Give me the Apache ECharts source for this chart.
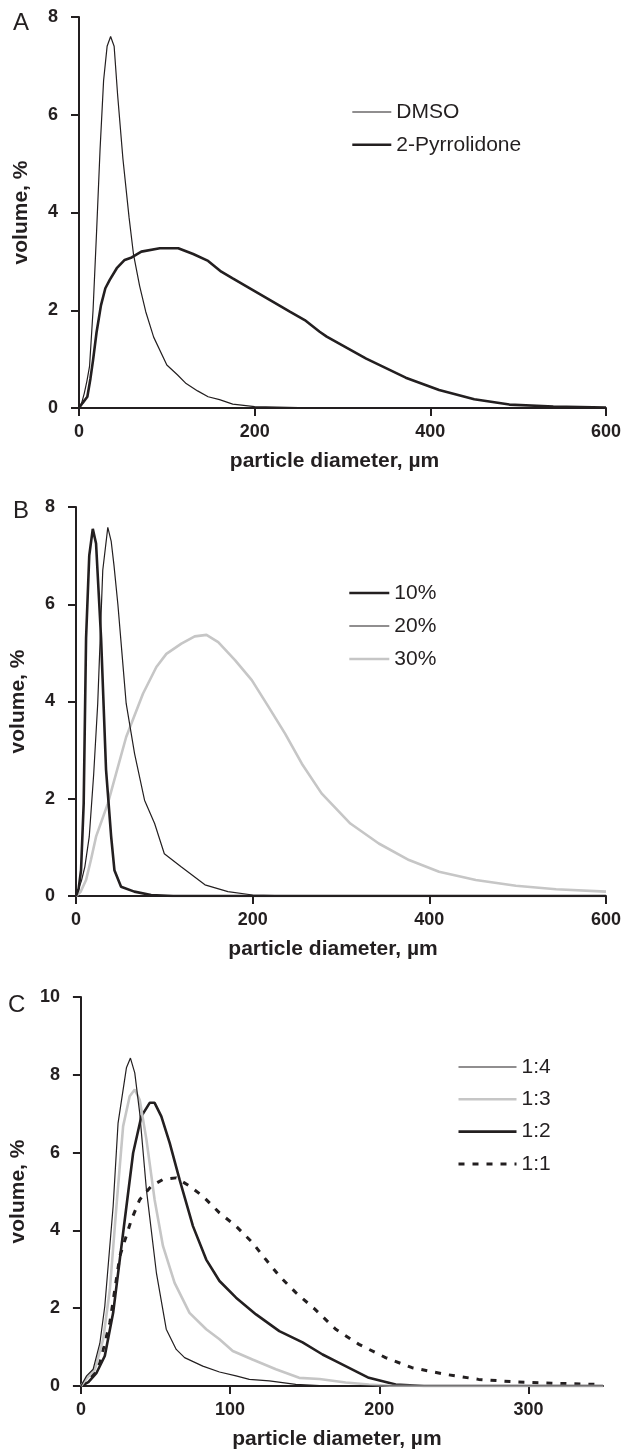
<!DOCTYPE html>
<html>
<head>
<meta charset="utf-8">
<script src="https://cdn.jsdelivr.net/npm/echarts@6/dist/echarts.min.js"></script>
<style>
html,body{margin:0;padding:0;background:#fff;}
#chart{width:624px;height:1451px;}
</style>
</head>
<body>
<div id="chart"></div>
<script>
// ---------- Panel A ----------
var dmsoX = [0, 3, 6, 9, 12, 16, 20, 24, 28, 32, 36, 40, 44, 50, 57, 62, 69, 76, 85, 100, 112, 122, 135, 147, 160, 175, 200, 250, 300, 600];
var dmsoY = [0, 0.1, 0.3, 0.55, 0.85, 2.0, 3.6, 5.3, 6.7, 7.4, 7.6, 7.4, 6.4, 5.1, 3.9, 3.15, 2.5, 1.97, 1.45, 0.88, 0.68, 0.5, 0.35, 0.23, 0.17, 0.08, 0.03, 0.01, 0, 0];
var pyrX = [0, 4, 9.5, 13, 16, 20, 25, 30, 35, 43, 52, 60, 71, 92, 113, 130, 147, 162, 175, 198, 221, 240, 257, 274, 282, 327, 372, 410, 450, 490, 540, 600];
var pyrY = [0, 0.1, 0.23, 0.6, 0.98, 1.55, 2.1, 2.45, 2.62, 2.86, 3.03, 3.08, 3.2, 3.27, 3.27, 3.15, 3.01, 2.79, 2.65, 2.41, 2.17, 1.97, 1.8, 1.56, 1.46, 1.01, 0.62, 0.37, 0.18, 0.07, 0.03, 0.01];

// ---------- Panel B ----------
var p10X = [0, 3, 5.7, 8.7, 11.4, 15, 19, 22.7, 28.4, 34, 39.8, 43.5, 51, 66, 85, 110, 600];
var p10Y = [0, 0.15, 0.53, 1.9, 5.3, 7.0, 7.55, 7.25, 5.3, 2.6, 1.22, 0.53, 0.19, 0.09, 0.02, 0, 0];
var p20X = [0, 2, 6, 10, 15, 20, 24.6, 30.3, 36, 39.8, 43, 47.4, 52, 56.8, 66.3, 77.6, 89, 100, 119, 146, 172, 200, 250, 600];
var p20Y = [0, 0.1, 0.3, 0.6, 1.22, 2.5, 3.96, 6.7, 7.58, 7.3, 6.8, 6.0, 5.0, 3.96, 2.93, 1.97, 1.49, 0.87, 0.6, 0.23, 0.09, 0.02, 0, 0];
var p30X = [0, 5, 11.4, 17, 22.7, 36, 56.8, 75.8, 91, 102.3, 119.3, 134.4, 147.7, 161, 180, 199, 218, 236.7, 255.7, 278, 310.6, 342.8, 377, 411, 452.6, 498, 543.5, 600];
var p30Y = [0, 0.08, 0.33, 0.75, 1.22, 1.9, 3.27, 4.16, 4.71, 4.98, 5.19, 5.34, 5.37, 5.22, 4.85, 4.44, 3.89, 3.34, 2.72, 2.11, 1.49, 1.08, 0.74, 0.5, 0.33, 0.21, 0.14, 0.09];

// ---------- Panel C ----------
var r14X = [0, 3.8, 8.2, 12.7, 16, 21.6, 24.9, 30.5, 33.2, 36.1, 39.4, 43.9, 50.6, 57.2, 63.9, 69.5, 81.7, 92.9, 104, 112.9, 126.3, 144, 160, 200, 350];
var r14Y = [0, 0.26, 0.43, 1.1, 2.05, 4.62, 6.76, 8.18, 8.43, 8.05, 7.02, 5.05, 2.91, 1.46, 0.94, 0.73, 0.51, 0.36, 0.26, 0.17, 0.13, 0.04, 0.01, 0, 0];
var r13X = [0, 4, 9.4, 14.9, 19.4, 23.8, 28.3, 32.7, 36.1, 39.4, 43.9, 49.4, 55, 62.8, 72.8, 84, 92.9, 101.8, 115, 130.7, 146.3, 160, 177.5, 193, 210, 350];
var r13Y = [0, 0.2, 0.43, 1.2, 2.48, 4.62, 6.68, 7.45, 7.62, 7.36, 6.34, 4.79, 3.6, 2.65, 1.88, 1.46, 1.2, 0.9, 0.68, 0.43, 0.21, 0.18, 0.09, 0.04, 0, 0];
var r12X = [0, 5, 10.5, 16, 21.6, 28.3, 35, 40.5, 46.1, 49.4, 53.9, 59.5, 66.1, 75.1, 84, 92.9, 104, 117.4, 133, 148.6, 162, 170.8, 193, 211, 230, 350];
var r12Y = [0, 0.1, 0.34, 0.77, 1.88, 3.94, 5.99, 6.93, 7.28, 7.28, 6.93, 6.25, 5.31, 4.11, 3.25, 2.7, 2.27, 1.84, 1.41, 1.12, 0.81, 0.64, 0.21, 0.04, 0, 0];
var r11X = [0, 6, 12.7, 19.4, 26.1, 33.9, 39.4, 47.2, 55, 63.9, 72.8, 81.7, 92.9, 104, 115.1, 124, 133, 144.1, 157, 170.8, 186.4, 204.2, 222, 244.3, 266.6, 293.3, 315.6, 349];
var r11Y = [0, 0.15, 0.6, 1.63, 3.34, 4.28, 4.79, 5.14, 5.31, 5.35, 5.14, 4.88, 4.45, 4.11, 3.68, 3.25, 2.83, 2.4, 1.97, 1.46, 1.07, 0.73, 0.47, 0.3, 0.17, 0.1, 0.07, 0.04];

var xTicksAB = [0, 200, 400, 600];
var xTicksC = [0, 100, 200, 300];

function pairs(xs, ys) { return xs.map(function (x, i) { return [x, ys[i]]; }); }

var FONT = '"Liberation Sans", Arial, sans-serif';
var INK = '#231f20';
var GRAY = '#c6c6c6';

function xAx(grid, max, ticks, shift) {
  return {
    type: 'value', gridIndex: grid, min: 0, max: max,
    name: 'particle diameter, µm', nameLocation: 'middle', nameGap: 43,
    nameTextStyle: { fontFamily: FONT, fontWeight: 'bold', fontSize: 21, color: INK, padding: [0, shift, 0, 0] },
    axisLine: { show: true, onZero: false, lineStyle: { color: INK, width: 2 } },
    axisTick: { show: true, inside: false, length: 8, lineStyle: { color: INK, width: 2 }, customValues: ticks },
    axisLabel: { fontFamily: FONT, fontWeight: 'bold', fontSize: 18, color: INK, margin: 15, customValues: ticks },
    splitLine: { show: false }
  };
}
function yAx(grid, max) {
  return {
    type: 'value', gridIndex: grid, min: 0, max: max, interval: 2,
    name: 'volume, %', nameLocation: 'middle', nameGap: 47,
    nameTextStyle: { fontFamily: FONT, fontWeight: 'bold', fontSize: 21, color: INK },
    axisLine: { show: true, onZero: false, lineStyle: { color: INK, width: 2 } },
    axisTick: { show: true, inside: false, length: 8, lineStyle: { color: INK, width: 2 } },
    axisLabel: { fontFamily: FONT, fontWeight: 'bold', fontSize: 18, color: INK, margin: 21 },
    splitLine: { show: false }
  };
}
function ser(name, g, xs, ys, color, width, type) {
  return {
    name: name, type: 'line', xAxisIndex: g, yAxisIndex: g,
    data: pairs(xs, ys), symbol: 'none', showSymbol: false, smooth: false, silent: true,
    lineStyle: { color: color, width: width, type: type || 'solid' },
    itemStyle: { color: color }
  };
}
function leg(names, left, top, w, gap, tgap) {
  return {
    data: names, orient: 'vertical', left: left, top: top,
    itemWidth: w, itemHeight: 21, itemGap: gap, itemTextGap: tgap,
    itemStyle: { opacity: 0, borderWidth: 0 },
    lineStyle: { width: 'inherit', type: 'inherit', color: 'inherit' },
    textStyle: { fontFamily: FONT, fontSize: 21, lineHeight: 21, color: INK },
    selectedMode: false
  };
}

var chart = echarts.init(document.getElementById('chart'), null, { renderer: 'canvas' });
chart.setOption({
  animation: false,
  backgroundColor: '#fff',
  grid: [
    { left: 79, right: 17, top: 17, height: 391 },
    { left: 75, right: 18, top: 507, height: 389 },
    { left: 78, right: 21, top: 997, height: 390 }
  ],
  xAxis: [xAx(0, 600, xTicksAB, 16), xAx(1, 600, xTicksAB, 16), xAx(2, 350, xTicksC, 10)],
  yAxis: [yAx(0, 8), yAx(1, 8), yAx(2, 10)],
  legend: [
    leg(['DMSO', '2-Pyrrolidone'], 346, 96.5, 39, 11.8, 6),
    leg(['10%', '20%', '30%'], 343, 577.5, 40, 12, 5),
    leg(['1:4', '1:3', '1:2', '1:1'], 452, 1051.5, 58, 11.3, 6)
  ],
  graphic: [
    { type: 'text', left: 13, top: 11, style: { text: 'A', font: '24px ' + FONT, fill: INK } },
    { type: 'text', left: 13, top: 499, style: { text: 'B', font: '24px ' + FONT, fill: INK } },
    { type: 'text', left: 8, top: 993, style: { text: 'C', font: '24px ' + FONT, fill: INK } }
  ],
  series: [
    ser('DMSO', 0, dmsoX, dmsoY, INK, 1.2),
    ser('2-Pyrrolidone', 0, pyrX, pyrY, INK, 2.6),
    ser('30%', 1, p30X, p30Y, GRAY, 2.6),
    ser('20%', 1, p20X, p20Y, INK, 1.2),
    ser('10%', 1, p10X, p10Y, INK, 2.6),
    ser('1:1', 2, r11X, r11Y, INK, 3, [6, 8]),
    ser('1:2', 2, r12X, r12Y, INK, 2.6),
    ser('1:3', 2, r13X, r13Y, GRAY, 2.6),
    ser('1:4', 2, r14X, r14Y, INK, 1.2)
  ]
});
</script>
</body>
</html>
